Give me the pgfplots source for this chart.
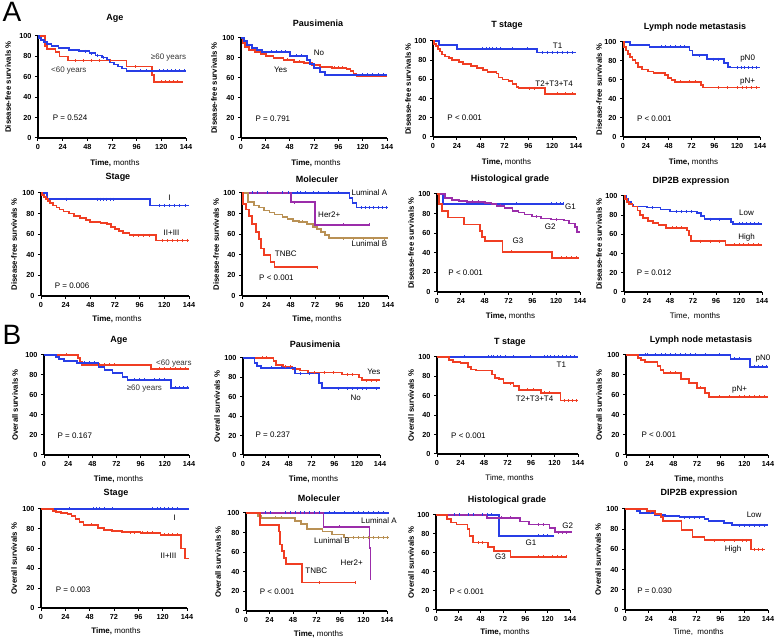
\documentclass[border=0pt]{standalone}
\usepackage{fontspec}
\setmainfont{Liberation Sans}
\usepackage{pgfplots}
\pgfplotsset{compat=1.18}
\definecolor{kred}{RGB}{240,62,35}
\definecolor{kblue}{RGB}{40,62,230}
\definecolor{kpur}{RGB}{155,45,170}
\definecolor{ktan}{RGB}{185,145,85}
\newcommand{\ann}{\fontsize{8}{9}\selectfont}
\newcommand{\ttl}{\fontsize{9}{10}\selectfont\bfseries}
\newcommand{\ylab}{\fontsize{7.8}{9}\selectfont\bfseries}
\newcommand{\xlab}{\fontsize{8}{9}\selectfont}
\newcommand{\km}[2]{\addplot[const plot, color=#1, line width=1.7pt] coordinates {#2};}
\newcommand{\cens}[2]{\addplot[only marks, mark=|, mark size=1.5pt, color=#1, mark options={line width=0.7pt}, forget plot] coordinates {#2};}
\pgfplotsset{
  kmax/.style={scale only axis, xmin=0, xmax=144, ymin=0, ymax=100,
    axis lines=left, axis line style={-, line width=1.2pt, black},
    xtick={0,24,...,144}, ytick={0,20,...,100},
    tick align=outside, major tick length=3pt,
    tick style={black, line width=1pt},
    ticklabel style={font=\fontsize{7.3}{8}\selectfont\bfseries},
    /pgf/number format/assume math mode=true,
    clip=false, enlargelimits=false, anchor=south west},
}
\begin{document}
\begin{tikzpicture}
\useasboundingbox (0pt,0pt) rectangle (777pt,639pt);
% ===== A row 1 =====
\begin{axis}[kmax, at={(38pt,501pt)}, width=148pt, height=102pt]
\km{kred}{(0,100)(7,90)(9,87)(17,84)(21,80)(29,76)(86,70)(111,62)(113,55)(141,55)}
\km{kblue}{(0,100)(1,98)(3,96)(6,94)(9,92)(13,90)(20,88)(30,86)(40,85)(50,83)(56,81)(62,79)(67,77)(70,74)(74,72)(78,70)(82,68)(86,66)(144,66)}
\cens{kblue}{(46,85)(52,83)(58,81)(64,79)(100,66)(105,66)(118,66)(122,66)(126,66)(130,66)(134,66)(138,66)(142,66)}
\cens{kred}{(36,76)(44,76)(52,76)(60,76)(70,76)(95,70)(120,55)(124,55)(128,55)(132,55)(136,55)}
\node[font=\ann, text=black!80] at (axis cs:127,79) {≥60 years};
\node[font=\ann, text=black!80] at (axis cs:30,66) {<60 years};
\node[font=\ann, anchor=west] at (axis cs:11,20) {P = 0.524};
\end{axis}
\begin{axis}[kmax, at={(241pt,501pt)}, width=146pt, height=100pt]
\km{kred}{(0,100)(2,95)(4,91)(8,88)(14,86)(20,84)(25,82)(32,80)(42,78)(52,76)(62,75)(70,73)(78,71)(90,70)(104,69)(108,67)(111,64)(114,62)(144,62)}
\km{kblue}{(0,100)(3,97)(6,93)(11,90)(16,88)(21,86)(48,82)(65,78)(68,74)(72,70)(78,66)(83,63)(144,63)}
\cens{kblue}{(30,86)(35,86)(40,86)(44,86)(55,82)(60,82)(120,63)(125,63)(130,63)(135,63)(140,63)}
\cens{kred}{(46,78)(58,76)(92,70)(96,70)(100,70)}
\node[font=\ann] at (axis cs:77,85) {No};
\node[font=\ann] at (axis cs:39,68) {Yes};
\node[font=\ann, anchor=west] at (axis cs:11,19.5) {P = 0.791};
\end{axis}
\begin{axis}[kmax, at={(433pt,502pt)}, width=143pt, height=96pt]
\km{kblue}{(0,100)(6,96)(24,92)(105,88)(144,88)}
\km{kred}{(0,100)(1,97)(3,95)(5,92)(7,89)(9,86)(12,84)(16,82)(19,80)(26,78)(30,76)(38,74)(44,72)(50,70)(55,68)(64,66)(66,62)(70,60)(76,58)(80,55)(84,52)(86,51)(113,45)(144,45)}
\cens{kblue}{(50,92)(54,92)(57,92)(60,92)(64,92)(68,92)(80,92)(95,92)(110,88)(115,88)(120,88)(125,88)(130,88)(135,88)(140,88)}
\cens{kred}{(97,51)(102,51)(125,45)(133,45)(140,45)}
\node[font=\ann] at (axis cs:125.5,95) {T1};
\node[font=\ann] at (axis cs:122,55) {T2+T3+T4};
\node[font=\ann, anchor=west] at (axis cs:11,19.7) {P < 0.001};
\end{axis}
\begin{axis}[kmax, at={(623pt,502pt)}, width=137pt, height=95pt]
\km{kblue}{(0,100)(7,97)(28,95)(70,91)(73,86)(88,82)(106,78)(110,74)(113,73)(144,73)}
\km{kred}{(0,100)(1,95)(3,91)(5,87)(7,84)(10,81)(13,78)(16,74)(20,71)(26,69)(32,67)(44,65)(47,62)(51,60)(55,58)(82,55)(84,52)(144,52)}
\cens{kblue}{(40,95)(45,95)(50,95)(55,95)(60,95)(65,95)(80,86)(95,82)(100,82)(120,73)(124,73)(128,73)(132,73)(136,73)(140,73)}
\cens{kred}{(60,58)(70,58)(76,58)(100,52)(110,52)(120,52)(125,52)(130,52)(135,52)(140,52)}
\node[font=\ann] at (axis cs:131,82.5) {pN0};
\node[font=\ann] at (axis cs:131,58) {pN+};
\node[font=\ann, anchor=west] at (axis cs:11,19.6) {P < 0.001};
\end{axis}
% ===== A row 2 =====
\begin{axis}[kmax, at={(41pt,343pt)}, width=148pt, height=103pt]
\km{kblue}{(0,100)(6,94)(106,88)(144,88)}
\km{kred}{(0,100)(1,98)(3,96)(5,94)(7,92)(9,90)(12,88)(15,86)(18,84)(22,82)(27,80)(32,78)(38,76)(44,74)(48,72)(58,71)(64,70)(68,67)(72,65)(76,63)(80,61)(86,59)(112,54)(144,54)}
\cens{kblue}{(25,94)(55,94)(58,94)(61,94)(64,94)(67,94)(70,94)(115,88)(120,88)(125,88)(130,88)(135,88)(140,88)}
\cens{kred}{(90,59)(95,59)(100,59)(105,59)(118,54)(123,54)(128,54)(133,54)(138,54)(142,54)}
\node[font=\ann, anchor=south] at (axis cs:125,89) {I};
\node[font=\ann] at (axis cs:127,61.6) {II+III};
\node[font=\ann, anchor=west] at (axis cs:10,9.5) {P = 0.006};
\end{axis}
\begin{axis}[kmax, at={(242pt,343pt)}, width=146pt, height=103pt]
\km{kblue}{(0,100)(106,95)(109,90)(113,86)(144,86)}
\km{kpur}{(0,100)(48,91)(72,69)(126,69)}
\km{ktan}{(0,100)(6,91)(12,88)(17,86)(22,83)(27,81)(32,79)(40,77)(45,75)(50,73)(56,72)(64,70)(70,67)(74,65)(78,62)(82,59)(86,56)(144,56)}
\km{kred}{(0,100)(1,89)(4,84)(7,78)(10,70)(14,62)(17,55)(19,46)(22,40)(28,33)(32,28)(74,28)}
\cens{kblue}{(10,100)(15,100)(25,100)(40,100)(46,100)(55,100)(58,100)(62,100)(70,100)(75,100)(85,100)(95,100)(118,86)(122,86)(126,86)(130,86)(134,86)(138,86)(142,86)}
\cens{kpur}{(52,91)(100,69)(126,69)}
\cens{ktan}{(60,72)(100,56)(110,56)(120,56)(130,56)(140,56)}
\cens{kred}{(74,28)}
\node[font=\ann, anchor=west] at (axis cs:104.6,100) {Luminal A};
\node[font=\ann, anchor=west] at (axis cs:71.7,79) {Her2+};
\node[font=\ann, anchor=west] at (axis cs:104.6,50.5) {Lunimal B};
\node[font=\ann, anchor=west] at (axis cs:29,40.7) {TNBC};
\node[font=\ann, anchor=west] at (axis cs:13.5,18) {P < 0.001};
\end{axis}
\begin{axis}[kmax, at={(437pt,347pt)}, width=143pt, height=98pt]
\km{kblue}{(0,100)(6,90)(127,90)}
\km{kpur}{(0,100)(8,96)(15,94)(22,93)(30,92)(48,91)(55,90)(60,88)(68,86)(76,83)(82,81)(88,79)(96,77)(105,75)(115,74)(128,73)(133,70)(139,66)(141,61)(144,61)}
\km{kred}{(0,100)(2,90)(5,83)(11,76)(27,69)(43,62)(45,56)(48,52)(66,41)(116,35)(143,35)}
\cens{kblue}{(80,90)(115,90)(120,90)(124,90)(127,90)}
\cens{kpur}{(36,92)(42,92)(64,88)(100,77)(120,74)}
\cens{kred}{(75,41)(125,35)(130,35)(135,35)(140,35)}
\node[font=\ann] at (axis cs:134.4,87.4) {G1};
\node[font=\ann] at (axis cs:114,66.3) {G2};
\node[font=\ann] at (axis cs:81.6,52.7) {G3};
\node[font=\ann, anchor=west] at (axis cs:8,19.4) {P < 0.001};
\end{axis}
\begin{axis}[kmax, at={(624pt,347pt)}, width=138pt, height=96pt]
\km{kblue}{(0,100)(2,97)(4,94)(7,91)(10,89)(24,88)(38,86)(48,84)(76,82)(80,79)(84,76)(112,73)(114,71)(144,71)}
\km{kred}{(0,100)(1,97)(3,94)(5,92)(9,89)(14,85)(17,80)(20,77)(25,74)(30,72)(36,70)(44,67)(66,64)(68,59)(70,53)(106,49)(144,49)}
\cens{kblue}{(30,88)(55,84)(60,84)(65,84)(70,84)(90,76)(100,76)(120,71)(124,71)(128,71)(132,71)(136,71)(140,71)}
\cens{kred}{(50,67)(55,67)(60,67)(80,53)(90,53)(100,53)(115,49)(120,49)(125,49)(130,49)(135,49)(140,49)}
\node[font=\ann] at (axis cs:127.8,82.8) {Low};
\node[font=\ann] at (axis cs:127.8,56.9) {High};
\node[font=\ann, anchor=west] at (axis cs:9.7,19.7) {P = 0.012};
\end{axis}
% ===== B row 1 =====
\begin{axis}[kmax, at={(44pt,184pt)}, width=145pt, height=100pt]
\km{kred}{(0,100)(34,97)(36,93)(38,90)(106,86)(144,86)}
\km{kblue}{(0,100)(12,98)(15,96)(20,94)(33,92)(54,88)(60,85)(68,82)(78,78)(83,75)(126,67)(144,67)}
\cens{kred}{(22,100)(50,90)(55,90)(60,90)(65,90)(70,90)(115,86)(120,86)(125,86)(130,86)(135,86)(140,86)}
\cens{kblue}{(40,92)(45,92)(50,92)(90,75)(95,75)(100,75)(110,75)(115,75)(120,75)(130,67)(134,67)(138,67)(142,67)}
\node[font=\ann, text=black!80] at (axis cs:129,91.3) {<60 years};
\node[font=\ann, text=black!80] at (axis cs:99.7,66.3) {≥60 years};
\node[font=\ann, anchor=west] at (axis cs:10,19.7) {P = 0.167};
\end{axis}
\begin{axis}[kmax, at={(243pt,184pt)}, width=137pt, height=97pt]
\km{kred}{(0,100)(32,97)(35,93)(42,91)(52,89)(60,87)(68,85)(104,83)(122,80)(125,77)(144,77)}
\km{kblue}{(0,100)(12,95)(15,92)(19,90)(55,84)(80,74)(83,69)(144,69)}
\cens{kblue}{(30,90)(40,90)(50,90)(60,84)(70,84)(100,69)(110,69)(115,69)(120,69)(125,69)(130,69)(140,69)}
\cens{kred}{(20,100)(25,100)(45,91)(50,91)(75,85)(85,85)(95,85)(110,83)(115,83)(130,77)(135,77)(140,77)}
\node[font=\ann] at (axis cs:137.5,86.2) {Yes};
\node[font=\ann] at (axis cs:118.6,59.3) {No};
\node[font=\ann, anchor=west] at (axis cs:9.5,20.7) {P = 0.237};
\end{axis}
\begin{axis}[kmax, at={(437pt,185pt)}, width=141pt, height=97pt]
\km{kblue}{(0,100)(144,100)}
\km{kred}{(0,100)(12,97)(16,95)(24,94)(32,90)(35,87)(40,86)(56,82)(59,78)(63,77)(68,73)(78,70)(84,66)(106,63)(126,55)(144,55)}
\cens{kblue}{(28,100)(52,100)(55,100)(58,100)(62,100)(65,100)(70,100)(78,100)(95,100)(110,100)(113,100)(116,100)(120,100)(124,100)(128,100)(132,100)(136,100)(140,100)}
\cens{kred}{(75,73)(92,66)(98,66)(110,63)(115,63)(130,55)(134,55)(138,55)(142,55)}
\node[font=\ann] at (axis cs:127,92) {T1};
\node[font=\ann] at (axis cs:99.7,56.8) {T2+T3+T4};
\node[font=\ann, anchor=west] at (axis cs:10.9,18.5) {P < 0.001};
\end{axis}
\begin{axis}[kmax, at={(626pt,184pt)}, width=142pt, height=100pt]
\km{kblue}{(0,100)(106,96)(126,88)(144,88)}
\km{kred}{(0,100)(12,97)(15,95)(19,93)(32,89)(35,85)(38,82)(56,76)(64,72)(72,67)(80,62)(84,58)(144,58)}
\cens{kblue}{(20,100)(22,100)(30,100)(36,100)(40,100)(45,100)(50,100)(55,100)(60,100)(65,100)(70,100)(80,100)(95,100)(110,96)(115,96)(130,88)(134,88)(138,88)(142,88)}
\cens{kred}{(45,82)(50,82)(75,67)(95,58)(105,58)(115,58)(120,58)(125,58)(130,58)(135,58)(140,58)}
\node[font=\ann] at (axis cs:138.9,96.7) {pN0};
\node[font=\ann] at (axis cs:115.2,65.7) {pN+};
\node[font=\ann, anchor=west] at (axis cs:12.2,20.7) {P < 0.001};
\end{axis}
% ===== B row 2 =====
\begin{axis}[kmax, at={(41pt,31pt)}, width=146pt, height=99pt]
\km{kblue}{(0,100)(146,100)}
\km{kred}{(0,100)(12,98)(15,97)(20,96)(26,95)(30,93)(34,90)(38,87)(42,84)(56,81)(62,79)(70,78)(80,77)(98,76)(118,74)(138,60)(142,50)(146,50)}
\cens{kblue}{(28,100)(52,100)(55,100)(58,100)(62,100)(70,100)(110,100)(115,100)(118,100)(122,100)(126,100)(130,100)(134,100)}
\cens{kred}{(50,84)(88,76)(92,76)(100,76)(105,76)(110,76)(122,74)(126,74)(130,74)(134,74)}
\node[font=\ann] at (axis cs:132,91) {I};
\node[font=\ann] at (axis cs:125.7,53.2) {II+III};
\node[font=\ann, anchor=west] at (axis cs:11.2,18.9) {P = 0.003};
\end{axis}
\begin{axis}[kmax, at={(246pt,28pt)}, width=141pt, height=98pt]
\km{kblue}{(0,100)(146,100)}
\km{kpur}{(0,100)(79,86)(126,64)(127,32)}
\km{ktan}{(0,100)(12,97)(15,95)(50,92)(56,89)(62,84)(78,81)(88,78)(100,75)(146,75)}
\km{kred}{(0,100)(14,88)(34,81)(35,68)(37,61)(39,54)(41,48)(57,29)(112,29)}
\cens{kblue}{(20,100)(25,100)(40,100)(45,100)(50,100)(55,100)(60,100)(65,100)(70,100)(75,100)(85,100)(90,100)(100,100)(110,100)(115,100)(120,100)(125,100)(130,100)(135,100)(140,100)}
\cens{kpur}{(95,86)}
\cens{ktan}{(30,95)(36,95)(110,75)(115,75)(120,75)(125,75)(130,75)(135,75)(140,75)(144,75)}
\cens{kred}{(75,29)(112,29)}
\node[font=\ann, anchor=west] at (axis cs:114,91.8) {Luminal A};
\node[font=\ann] at (axis cs:87.8,72.1) {Lunimal B};
\node[font=\ann] at (axis cs:108,49.3) {Her2+};
\node[font=\ann] at (axis cs:71.8,41.5) {TNBC};
\node[font=\ann, anchor=west] at (axis cs:10.5,19.4) {P < 0.001};
\end{axis}
\begin{axis}[kmax, at={(436pt,29pt)}, width=134pt, height=95pt]
\km{kblue}{(0,100)(68,78)(127,78)}
\km{kpur}{(0,100)(55,97)(90,93)(100,90)(122,86)(128,82)(146,82)}
\km{kred}{(0,100)(12,96)(16,92)(22,90)(34,85)(36,78)(40,71)(56,66)(62,62)(80,56)(141,56)}
\cens{kblue}{(20,100)(25,100)(35,100)(40,100)(50,100)(55,100)(60,100)(110,78)(115,78)(120,78)}
\cens{kpur}{(70,97)(80,97)(110,90)(115,90)(132,82)(136,82)(140,82)}
\cens{kred}{(45,71)(50,71)(110,56)(115,56)(125,56)(130,56)(135,56)(140,56)}
\node[font=\ann] at (axis cs:141.6,88.5) {G2};
\node[font=\ann] at (axis cs:102,70.3) {G1};
\node[font=\ann] at (axis cs:69.2,56.3) {G3};
\node[font=\ann, anchor=west] at (axis cs:10.8,18.9) {P < 0.001};
\end{axis}
\begin{axis}[kmax, at={(625pt,29pt)}, width=143pt, height=101pt]
\km{kblue}{(0,100)(12,98)(15,96)(30,94)(40,93)(55,92)(80,90)(84,88)(100,86)(108,84)(144,84)}
\km{kred}{(0,100)(22,98)(30,95)(36,92)(38,88)(57,79)(68,72)(80,69)(127,60)(141,60)}
\cens{kblue}{(60,92)(65,92)(70,92)(75,92)(115,84)(120,84)(125,84)(130,84)(135,84)(140,84)}
\cens{kred}{(26,98)(90,69)(100,69)(110,69)(118,69)(122,69)(130,60)(134,60)(138,60)}
\node[font=\ann] at (axis cs:130,93.8) {Low};
\node[font=\ann] at (axis cs:108.8,59.7) {High};
\node[font=\ann, anchor=west] at (axis cs:8.8,19) {P = 0.030};
\end{axis}
% ===== panel letters =====
\node[font=\fontsize{28}{30}\selectfont] at (12pt,627pt) {A};
\node[font=\fontsize{28}{30}\selectfont] at (12pt,304pt) {B};
% ===== titles =====
\node[font=\ttl] at (115pt,621pt) {Age};
\node[font=\ttl] at (318pt,616pt) {Pausimenia};
\node[font=\ttl] at (507pt,614pt) {T stage};
\node[font=\ttl] at (695pt,612pt) {Lymph node metastasis};
\node[font=\ttl] at (118pt,462pt) {Stage};
\node[font=\ttl] at (317pt,460pt) {Moleculer};
\node[font=\ttl] at (510pt,460pt) {Histological grade};
\node[font=\ttl] at (691pt,458pt) {DIP2B expression};
\node[font=\ttl] at (119pt,299pt) {Age};
\node[font=\ttl] at (315pt,295pt) {Pausimenia};
\node[font=\ttl] at (510pt,297pt) {T stage};
\node[font=\ttl] at (701pt,299pt) {Lymph node metastasis};
\node[font=\ttl] at (116pt,146pt) {Stage};
\node[font=\ttl] at (319pt,141pt) {Moleculer};
\node[font=\ttl] at (507pt,139pt) {Histological grade};
\node[font=\ttl] at (699pt,146pt) {DIP2B expression};
% ===== y labels =====
\node[font=\ylab, rotate=90] at (8pt,552pt) {Disease-free survivals \%};
\node[font=\ylab, rotate=90] at (214pt,551pt) {Disease-free survivals \%};
\node[font=\ylab, rotate=90] at (408pt,550pt) {Disease-free survivals \%};
\node[font=\ylab, rotate=90] at (599pt,549.5pt) {Disease-free survivals \%};
\node[font=\ylab, rotate=90] at (14pt,394.5pt) {Disease-free survivals \%};
\node[font=\ylab, rotate=90] at (216pt,394.5pt) {Disease-free survivals \%};
\node[font=\ylab, rotate=90] at (411pt,396pt) {Disease-free survivals \%};
\node[font=\ylab, rotate=90] at (599pt,395pt) {Disease-free survivals \%};
\node[font=\ylab, rotate=90] at (15pt,234pt) {Overall survivals \%};
\node[font=\ylab, rotate=90] at (217pt,232.5pt) {Overall survivals \%};
\node[font=\ylab, rotate=90] at (411pt,233.5pt) {Overall survivals \%};
\node[font=\ylab, rotate=90] at (599pt,234pt) {Overall survivals \%};
\node[font=\ylab, rotate=90] at (14pt,80.5pt) {Overall survivals \%};
\node[font=\ylab, rotate=90] at (218pt,77pt) {Overall survivals \%};
\node[font=\ylab, rotate=90] at (411pt,76.5pt) {Overall survivals \%};
\node[font=\ylab, rotate=90] at (598pt,79.5pt) {Overall survivals \%};
% ===== x labels =====
\node[font=\xlab] at (115pt,476pt) {\textbf{Time,} months};
\node[font=\xlab] at (316pt,476pt) {\textbf{Time,} months};
\node[font=\xlab] at (506.5pt,477pt) {\textbf{Time,} months};
\node[font=\xlab] at (693.5pt,477pt) {\textbf{Time,} months};
\node[font=\xlab] at (117pt,320pt) {\textbf{Time,} months};
\node[font=\xlab] at (317pt,320pt) {\textbf{Time,} months};
\node[font=\xlab] at (510.5pt,323pt) {\textbf{Time,} months};
\node[font=\xlab] at (695pt,323pt) {Time,\ \ months};
\node[font=\xlab] at (118.5pt,160pt) {\textbf{Time,} months};
\node[font=\xlab] at (313.5pt,160pt) {\textbf{Time,} months};
\node[font=\xlab] at (509.5pt,161pt) {Time, months};
\node[font=\xlab] at (699pt,160pt) {\textbf{Time,} months};
\node[font=\xlab] at (116pt,8pt) {\textbf{Time,} months};
\node[font=\xlab] at (318.5pt,5pt) {\textbf{Time,} months};
\node[font=\xlab] at (505pt,7pt) {\textbf{Time,} months};
\node[font=\xlab] at (698.5pt,7pt) {Time,\ \ months};
\end{tikzpicture}
\end{document}
